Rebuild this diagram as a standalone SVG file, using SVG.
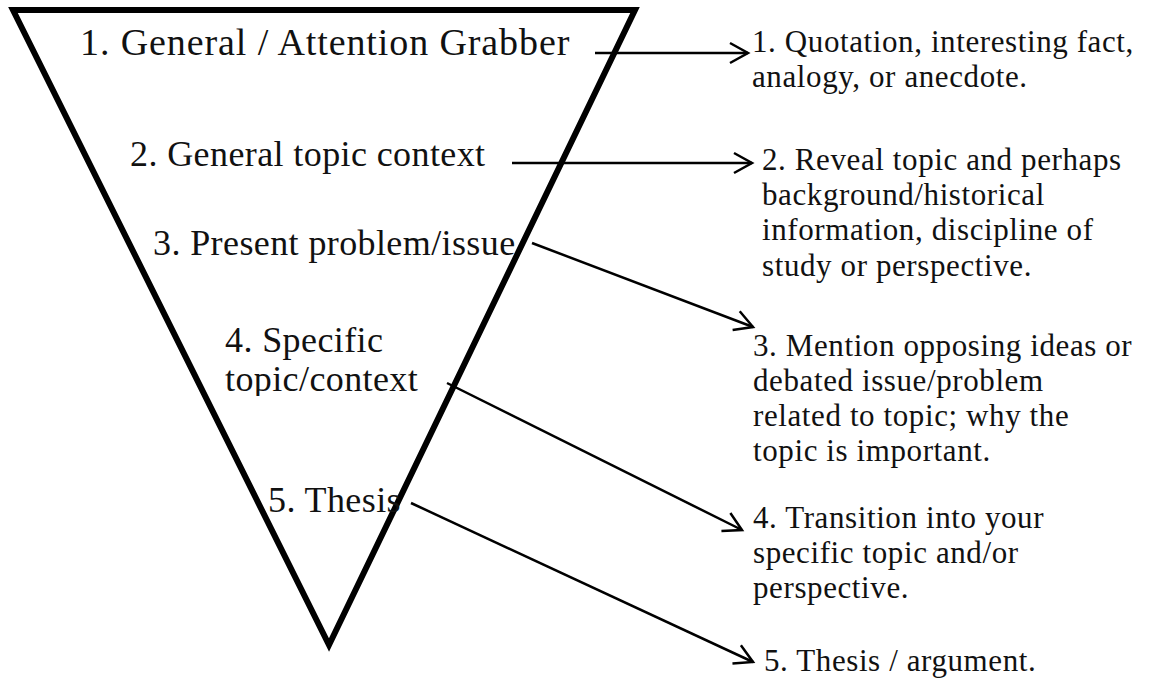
<svg xmlns="http://www.w3.org/2000/svg" width="1152" height="679" viewBox="0 0 1152 679">
<style>
.tri{fill:none;stroke:#000;stroke-width:6;stroke-linejoin:miter}
.arr{fill:none;stroke:#000;stroke-width:2.5}
.big{font-family:"Liberation Serif","Times New Roman",serif;font-size:36px;fill:#111;letter-spacing:0.4px}
.big1{font-size:38px;letter-spacing:0.9px}
.sm{font-family:"Liberation Serif","Times New Roman",serif;font-size:31px;fill:#111;letter-spacing:0.6px}
</style>
<defs>
<marker id="open" viewBox="-22 -13 26 26" refX="0" refY="0" markerWidth="26" markerHeight="26" markerUnits="userSpaceOnUse" orient="auto">
<path d="M-18,-10 L0,0 L-18,10" fill="none" stroke="#000" stroke-width="2.5"/>
</marker>
<clipPath id="clip4"><rect x="200" y="300" width="300" height="96"/></clipPath>
</defs>
<g id="funnel">
<polygon class="tri" points="13,10 635,10 329,645"/>
</g>
<g id="label1"><text class="big big1" x="80" y="55">1. General / Attention Grabber</text></g>
<g id="label2"><text class="big" x="130" y="166">2. General topic context</text></g>
<g id="label3"><text class="big" x="153" y="255">3. Present problem/issue</text></g>
<g id="label4" clip-path="url(#clip4)"><text class="big" x="225" y="352">4. Specific</text><text class="big" x="225" y="391">topic/context</text></g>
<g id="label5"><text class="big" x="268" y="512">5. Thesis</text></g>
<g id="connectors">
<line class="arr" x1="595" y1="53" x2="748" y2="53" marker-end="url(#open)"/>
<line class="arr" x1="512" y1="163" x2="752" y2="163" marker-end="url(#open)"/>
<line class="arr" x1="532" y1="243" x2="753" y2="327" marker-end="url(#open)"/>
<line class="arr" x1="447" y1="383" x2="742" y2="530" marker-end="url(#open)"/>
<line class="arr" x1="411" y1="503" x2="753" y2="662" marker-end="url(#open)"/>
</g>
<g id="desc1"><text class="sm"><tspan x="752" y="52">1. Quotation, interesting fact,</tspan><tspan x="752" y="87">analogy, or anecdote.</tspan></text></g>
<g id="desc2"><text class="sm"><tspan x="762" y="170">2. Reveal topic and perhaps</tspan><tspan x="762" y="205">background/historical</tspan><tspan x="762" y="240">information, discipline of</tspan><tspan x="762" y="276">study or perspective.</tspan></text></g>
<g id="desc3"><text class="sm"><tspan x="753" y="356">3. Mention opposing ideas or</tspan><tspan x="753" y="391">debated issue/problem</tspan><tspan x="753" y="426">related to topic; why the</tspan><tspan x="753" y="461">topic is important.</tspan></text></g>
<g id="desc4"><text class="sm"><tspan x="753" y="528">4. Transition into your</tspan><tspan x="753" y="563">specific topic and/or</tspan><tspan x="753" y="598">perspective.</tspan></text></g>
<g id="desc5"><text class="sm" x="764" y="671">5. Thesis / argument.</text></g>
</svg>
